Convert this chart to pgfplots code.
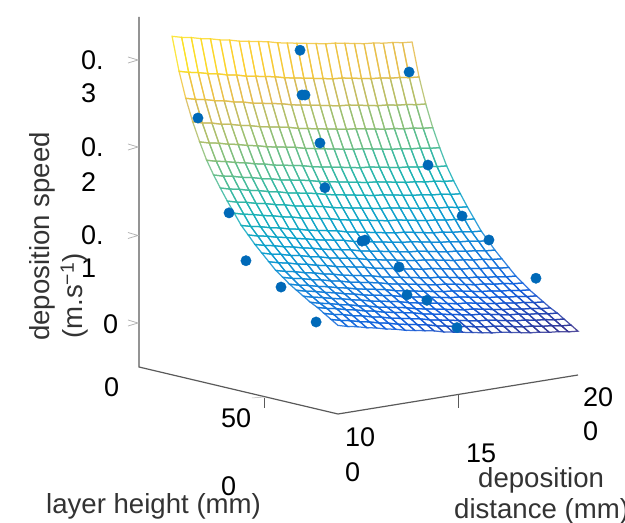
\documentclass[border=0pt]{standalone}
\usepackage{pgfplots}
\pgfplotsset{compat=1.18}
\usepackage{fontspec}
\setmainfont{Liberation Sans}
\pgfplotsset{colormap={parulamap}{rgb255=(53,42,135) rgb255=(15,92,221) rgb255=(18,125,216) rgb255=(7,156,207) rgb255=(21,177,180) rgb255=(89,189,140) rgb255=(165,190,107) rgb255=(225,185,82) rgb255=(252,206,46) rgb255=(249,251,14)}}
\definecolor{axgray}{HTML}{5A5A5A}
\definecolor{tickgray}{HTML}{B4B4B4}
\definecolor{labgray}{HTML}{333333}
\definecolor{dotblue}{HTML}{0069B8}
\begin{document}
\begin{tikzpicture}
\begin{axis}[
  x={(2.4pt,0.39pt)}, y={(0.24875pt,-0.05875pt)}, z={(0pt,877pt)},
  xmin=100,xmax=200,ymin=0,ymax=800,zmin=-0.05,zmax=0.35,
  hide axis, clip=false, colormap name=parulamap,
  point meta min=0, point meta max=0.336]
\coordinate (O) at (axis cs:100,0,-0.05);
\addplot3[mesh,mesh/rows=25,mesh/cols=26,line width=1.25pt,opacity=0.85] table[row sep=\\] {
x y z\\
100 133 .336\\104 133 .333\\108 133 .331\\112 133 .328\\116 133 .326\\120 133 .323\\124 133 .321\\128 133 .318\\132 133 .316\\136 133 .314\\140 133 .312\\144 133 .309\\148 133 .307\\152 133 .305\\156 133 .303\\160 133 .301\\164 133 .299\\168 133 .298\\172 133 .296\\176 133 .294\\180 133 .292\\184 133 .291\\188 133 .289\\192 133 .288\\196 133 .286\\200 133 .285\\
100 161 .298\\104 161 .295\\108 161 .293\\112 161 .290\\116 161 .288\\120 161 .285\\124 161 .283\\128 161 .280\\132 161 .278\\136 161 .276\\140 161 .274\\144 161 .271\\148 161 .269\\152 161 .267\\156 161 .265\\160 161 .263\\164 161 .261\\168 161 .260\\172 161 .258\\176 161 .256\\180 161 .254\\184 161 .253\\188 161 .251\\192 161 .250\\196 161 .248\\200 161 .247\\
100 188 .269\\104 188 .266\\108 188 .264\\112 188 .261\\116 188 .259\\120 188 .256\\124 188 .254\\128 188 .251\\132 188 .249\\136 188 .247\\140 188 .245\\144 188 .242\\148 188 .240\\152 188 .238\\156 188 .236\\160 188 .234\\164 188 .232\\168 188 .231\\172 188 .229\\176 188 .227\\180 188 .225\\184 188 .224\\188 188 .222\\192 188 .221\\196 188 .219\\200 188 .218\\
100 216 .244\\104 216 .241\\108 216 .239\\112 216 .236\\116 216 .234\\120 216 .231\\124 216 .229\\128 216 .226\\132 216 .224\\136 216 .222\\140 216 .220\\144 216 .217\\148 216 .215\\152 216 .213\\156 216 .211\\160 216 .209\\164 216 .207\\168 216 .206\\172 216 .204\\176 216 .202\\180 216 .200\\184 216 .199\\188 216 .197\\192 216 .196\\196 216 .194\\200 216 .193\\
100 244 .223\\104 244 .220\\108 244 .218\\112 244 .215\\116 244 .213\\120 244 .210\\124 244 .208\\128 244 .205\\132 244 .203\\136 244 .201\\140 244 .199\\144 244 .196\\148 244 .194\\152 244 .192\\156 244 .190\\160 244 .188\\164 244 .186\\168 244 .185\\172 244 .183\\176 244 .181\\180 244 .179\\184 244 .178\\188 244 .176\\192 244 .175\\196 244 .173\\200 244 .172\\
100 272 .204\\104 272 .201\\108 272 .199\\112 272 .196\\116 272 .194\\120 272 .191\\124 272 .189\\128 272 .186\\132 272 .184\\136 272 .182\\140 272 .180\\144 272 .177\\148 272 .175\\152 272 .173\\156 272 .171\\160 272 .169\\164 272 .167\\168 272 .166\\172 272 .164\\176 272 .162\\180 272 .160\\184 272 .159\\188 272 .157\\192 272 .156\\196 272 .154\\200 272 .153\\
100 300 .189\\104 300 .186\\108 300 .184\\112 300 .181\\116 300 .179\\120 300 .176\\124 300 .174\\128 300 .171\\132 300 .169\\136 300 .167\\140 300 .165\\144 300 .162\\148 300 .160\\152 300 .158\\156 300 .156\\160 300 .154\\164 300 .152\\168 300 .151\\172 300 .149\\176 300 .147\\180 300 .145\\184 300 .144\\188 300 .142\\192 300 .141\\196 300 .139\\200 300 .138\\
100 327 .176\\104 327 .173\\108 327 .171\\112 327 .168\\116 327 .166\\120 327 .163\\124 327 .161\\128 327 .158\\132 327 .156\\136 327 .154\\140 327 .152\\144 327 .149\\148 327 .147\\152 327 .145\\156 327 .143\\160 327 .141\\164 327 .139\\168 327 .138\\172 327 .136\\176 327 .134\\180 327 .132\\184 327 .131\\188 327 .129\\192 327 .128\\196 327 .126\\200 327 .125\\
100 355 .163\\104 355 .160\\108 355 .158\\112 355 .155\\116 355 .153\\120 355 .150\\124 355 .148\\128 355 .145\\132 355 .143\\136 355 .141\\140 355 .139\\144 355 .136\\148 355 .134\\152 355 .132\\156 355 .130\\160 355 .128\\164 355 .126\\168 355 .125\\172 355 .123\\176 355 .121\\180 355 .119\\184 355 .118\\188 355 .116\\192 355 .115\\196 355 .113\\200 355 .112\\
100 383 .151\\104 383 .148\\108 383 .146\\112 383 .143\\116 383 .141\\120 383 .138\\124 383 .136\\128 383 .133\\132 383 .131\\136 383 .129\\140 383 .127\\144 383 .124\\148 383 .122\\152 383 .120\\156 383 .118\\160 383 .116\\164 383 .114\\168 383 .113\\172 383 .111\\176 383 .109\\180 383 .107\\184 383 .106\\188 383 .104\\192 383 .103\\196 383 .101\\200 383 .100\\
100 411 .139\\104 411 .136\\108 411 .134\\112 411 .131\\116 411 .129\\120 411 .126\\124 411 .124\\128 411 .121\\132 411 .119\\136 411 .117\\140 411 .115\\144 411 .112\\148 411 .110\\152 411 .108\\156 411 .106\\160 411 .104\\164 411 .102\\168 411 .101\\172 411 .099\\176 411 .097\\180 411 .095\\184 411 .094\\188 411 .092\\192 411 .091\\196 411 .089\\200 411 .088\\
100 439 .130\\104 439 .127\\108 439 .125\\112 439 .122\\116 439 .120\\120 439 .117\\124 439 .115\\128 439 .112\\132 439 .110\\136 439 .108\\140 439 .106\\144 439 .103\\148 439 .101\\152 439 .099\\156 439 .097\\160 439 .095\\164 439 .093\\168 439 .092\\172 439 .090\\176 439 .088\\180 439 .086\\184 439 .085\\188 439 .083\\192 439 .082\\196 439 .080\\200 439 .079\\
100 466 .121\\104 466 .118\\108 466 .116\\112 466 .113\\116 466 .111\\120 466 .108\\124 466 .106\\128 466 .103\\132 466 .101\\136 466 .099\\140 466 .097\\144 466 .094\\148 466 .092\\152 466 .090\\156 466 .088\\160 466 .086\\164 466 .084\\168 466 .083\\172 466 .081\\176 466 .079\\180 466 .077\\184 466 .076\\188 466 .074\\192 466 .073\\196 466 .071\\200 466 .070\\
100 494 .113\\104 494 .110\\108 494 .108\\112 494 .105\\116 494 .103\\120 494 .100\\124 494 .098\\128 494 .095\\132 494 .093\\136 494 .091\\140 494 .089\\144 494 .086\\148 494 .084\\152 494 .082\\156 494 .080\\160 494 .078\\164 494 .076\\168 494 .075\\172 494 .073\\176 494 .071\\180 494 .069\\184 494 .068\\188 494 .066\\192 494 .065\\196 494 .063\\200 494 .062\\
100 522 .105\\104 522 .102\\108 522 .100\\112 522 .097\\116 522 .095\\120 522 .092\\124 522 .090\\128 522 .087\\132 522 .085\\136 522 .083\\140 522 .081\\144 522 .078\\148 522 .076\\152 522 .074\\156 522 .072\\160 522 .070\\164 522 .068\\168 522 .067\\172 522 .065\\176 522 .063\\180 522 .061\\184 522 .060\\188 522 .058\\192 522 .057\\196 522 .055\\200 522 .054\\
100 550 .097\\104 550 .094\\108 550 .092\\112 550 .089\\116 550 .087\\120 550 .084\\124 550 .082\\128 550 .079\\132 550 .077\\136 550 .075\\140 550 .073\\144 550 .070\\148 550 .068\\152 550 .066\\156 550 .064\\160 550 .062\\164 550 .060\\168 550 .059\\172 550 .057\\176 550 .055\\180 550 .053\\184 550 .052\\188 550 .050\\192 550 .049\\196 550 .047\\200 550 .046\\
100 578 .091\\104 578 .088\\108 578 .086\\112 578 .083\\116 578 .081\\120 578 .078\\124 578 .076\\128 578 .073\\132 578 .071\\136 578 .069\\140 578 .067\\144 578 .064\\148 578 .062\\152 578 .060\\156 578 .058\\160 578 .056\\164 578 .054\\168 578 .053\\172 578 .051\\176 578 .049\\180 578 .047\\184 578 .046\\188 578 .044\\192 578 .043\\196 578 .041\\200 578 .040\\
100 605 .085\\104 605 .082\\108 605 .080\\112 605 .077\\116 605 .075\\120 605 .072\\124 605 .070\\128 605 .067\\132 605 .065\\136 605 .063\\140 605 .061\\144 605 .058\\148 605 .056\\152 605 .054\\156 605 .052\\160 605 .050\\164 605 .048\\168 605 .047\\172 605 .045\\176 605 .043\\180 605 .041\\184 605 .040\\188 605 .038\\192 605 .037\\196 605 .035\\200 605 .034\\
100 633 .080\\104 633 .077\\108 633 .075\\112 633 .072\\116 633 .070\\120 633 .067\\124 633 .065\\128 633 .062\\132 633 .060\\136 633 .058\\140 633 .056\\144 633 .053\\148 633 .051\\152 633 .049\\156 633 .047\\160 633 .045\\164 633 .043\\168 633 .042\\172 633 .040\\176 633 .038\\180 633 .036\\184 633 .035\\188 633 .033\\192 633 .032\\196 633 .030\\200 633 .029\\
100 661 .075\\104 661 .072\\108 661 .070\\112 661 .067\\116 661 .065\\120 661 .062\\124 661 .060\\128 661 .057\\132 661 .055\\136 661 .053\\140 661 .051\\144 661 .048\\148 661 .046\\152 661 .044\\156 661 .042\\160 661 .040\\164 661 .038\\168 661 .037\\172 661 .035\\176 661 .033\\180 661 .031\\184 661 .030\\188 661 .028\\192 661 .027\\196 661 .025\\200 661 .024\\
100 689 .070\\104 689 .067\\108 689 .065\\112 689 .062\\116 689 .060\\120 689 .057\\124 689 .055\\128 689 .052\\132 689 .050\\136 689 .048\\140 689 .046\\144 689 .043\\148 689 .041\\152 689 .039\\156 689 .037\\160 689 .035\\164 689 .033\\168 689 .032\\172 689 .030\\176 689 .028\\180 689 .026\\184 689 .025\\188 689 .023\\192 689 .022\\196 689 .020\\200 689 .019\\
100 717 .066\\104 717 .063\\108 717 .061\\112 717 .058\\116 717 .056\\120 717 .053\\124 717 .051\\128 717 .048\\132 717 .046\\136 717 .044\\140 717 .042\\144 717 .039\\148 717 .037\\152 717 .035\\156 717 .033\\160 717 .031\\164 717 .029\\168 717 .028\\172 717 .026\\176 717 .024\\180 717 .022\\184 717 .021\\188 717 .019\\192 717 .018\\196 717 .016\\200 717 .015\\
100 744 .061\\104 744 .058\\108 744 .056\\112 744 .053\\116 744 .051\\120 744 .048\\124 744 .046\\128 744 .043\\132 744 .041\\136 744 .039\\140 744 .037\\144 744 .034\\148 744 .032\\152 744 .030\\156 744 .028\\160 744 .026\\164 744 .024\\168 744 .023\\172 744 .021\\176 744 .019\\180 744 .017\\184 744 .016\\188 744 .014\\192 744 .013\\196 744 .011\\200 744 .010\\
100 772 .056\\104 772 .053\\108 772 .051\\112 772 .048\\116 772 .046\\120 772 .043\\124 772 .041\\128 772 .038\\132 772 .036\\136 772 .034\\140 772 .032\\144 772 .029\\148 772 .027\\152 772 .025\\156 772 .023\\160 772 .021\\164 772 .019\\168 772 .018\\172 772 .016\\176 772 .014\\180 772 .012\\184 772 .011\\188 772 .009\\192 772 .008\\196 772 .006\\200 772 .005\\
100 800 .051\\104 800 .048\\108 800 .046\\112 800 .043\\116 800 .041\\120 800 .038\\124 800 .036\\128 800 .033\\132 800 .031\\136 800 .029\\140 800 .027\\144 800 .024\\148 800 .022\\152 800 .020\\156 800 .018\\160 800 .016\\164 800 .014\\168 800 .013\\172 800 .011\\176 800 .009\\180 800 .007\\184 800 .006\\188 800 .004\\192 800 .003\\196 800 .001\\200 800 .000\\
};
\addplot3[only marks,mark=*,mark size=5.2pt,color=dotblue,mark options={draw=dotblue,fill=dotblue}] coordinates {
(150,165,.300)(200,121,.250)(150,173,.2495)(150,185,.2503)(100,237,.2498)
(150,245,.1996)(200,197,.149)(150,265,.150)(100,362,.150)(200,334,.100)
(150,414,.099)(150,426,.101)(200,442,.080)(100,430,.100)(150,563,.0795)
(200,631,.049)(100,571,.0794)(150,595,.050)(150,675,.049)(100,712,.049)(150,796,.026)};
\end{axis}
\begin{scope}[shift={(O)},xshift=-139pt,yshift=367pt,x=1pt,y=-1pt]
\draw[axgray,line width=1.2pt] (139,17)--(139,367)--(338,414)--(578,375);
\foreach \yy in {60,147,235.5,323}{\draw[tickgray,line width=0.8pt] (128,\yy-3)--(138,\yy)--(128,\yy+3);}
\draw[axgray,line width=0.5pt] (458,395)--(458,408);
\draw[axgray,line width=0.5pt] (264,398)--(264,408);
\draw[tickgray,line width=0.5pt] (252,398)--(264,397);
\path[nodes={inner sep=0pt,anchor=base west,font=\fontsize{27}{30}\selectfont,text=black}]
 (81,70) node {0.} (81,103) node {3}
 (81,157) node {0.} (81,192) node {2}
 (81,245) node {0.} (81,278) node {1}
 (103,333) node {0}
 (104,396) node {0}
 (221,427) node {50} (221,495) node {0}
 (345,446) node {10} (345,481) node {0}
 (466,462) node {15}
 (583,406) node {20} (583,440) node {0};
\path[nodes={inner sep=0pt,anchor=base west,font=\fontsize{27.6}{30}\selectfont,text=labgray}]
 (46,513) node {layer height (mm)}
 (478,487) node {deposition}
 (454,518) node {distance (mm)}
 (50,341) node[rotate=90] {deposition speed}
 (83,339) node[rotate=90] {(m.s\textsuperscript{−1})};
\pgfresetboundingbox
\useasboundingbox (0,0) rectangle (625,523);
\end{scope}
\end{tikzpicture}
\end{document}
